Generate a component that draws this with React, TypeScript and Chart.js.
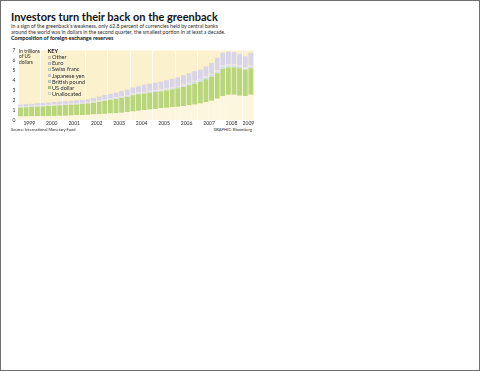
import React, { useEffect, useRef } from "react";
import { Chart, registerables } from "chart.js";

Chart.register(...registerables);

const quarters = [
  "1999Q1","1999Q2","1999Q3","1999Q4","2000Q1","2000Q2","2000Q3","2000Q4",
  "2001Q1","2001Q2","2001Q3","2001Q4","2002Q1","2002Q2","2002Q3","2002Q4",
  "2003Q1","2003Q2","2003Q3","2003Q4","2004Q1","2004Q2","2004Q3","2004Q4",
  "2005Q1","2005Q2","2005Q3","2005Q4","2006Q1","2006Q2","2006Q3","2006Q4",
  "2007Q1","2007Q2","2007Q3","2007Q4","2008Q1","2008Q2","2008Q3","2008Q4",
  "2009Q1","2009Q2",
];
const yearLabels = ["1999","2000","2001","2002","2003","2004","2005","2006","2007","2008","2009"];
const yMin = 0;
const yMax = 7;
const yStep = 1;

// trillions of US dollars
const unallocated = [
  0.35,0.36,0.37,0.38, 0.39,0.40,0.41,0.42, 0.44,0.46,0.48,0.50, 0.52,0.56,0.59,0.62,
  0.66,0.70,0.74,0.80, 0.86,0.94,1.00,1.05, 1.12,1.18,1.23,1.28, 1.33,1.40,1.47,1.55,
  1.65,1.78,1.95,2.15, 2.40,2.55,2.55,2.45, 2.42,2.55,
];
const usDollar = [
  0.91,0.92,0.94,0.96, 0.98,1.00,1.03,1.05, 1.06,1.07,1.09,1.12, 1.15,1.19,1.25,1.32,
  1.38,1.42,1.48,1.54, 1.64,1.66,1.66,1.70, 1.70,1.70,1.75,1.80, 1.87,1.93,2.03,2.13,
  2.23,2.32,2.43,2.55, 2.75,2.75,2.75,2.75, 2.63,2.67,
];
const britishPound = [
  0.04,0.04,0.04,0.04, 0.04,0.04,0.04,0.04, 0.05,0.05,0.05,0.05, 0.05,0.05,0.05,0.05,
  0.06,0.07,0.07,0.07, 0.08,0.08,0.09,0.09, 0.09,0.10,0.10,0.11, 0.12,0.13,0.14,0.15,
  0.15,0.16,0.17,0.19, 0.20,0.19,0.17,0.15, 0.14,0.17,
];
const japaneseYen = [
  0.08,0.08,0.08,0.08, 0.08,0.08,0.08,0.08, 0.08,0.07,0.07,0.07, 0.07,0.07,0.07,0.08,
  0.08,0.08,0.08,0.08, 0.08,0.08,0.09,0.09, 0.09,0.10,0.10,0.10, 0.10,0.11,0.11,0.11,
  0.10,0.11,0.11,0.12, 0.13,0.13,0.13,0.14, 0.13,0.13,
];
const swissFranc = [
  0.01,0.01,0.01,0.01, 0.01,0.01,0.01,0.01, 0.01,0.01,0.01,0.01, 0.01,0.01,0.01,0.01,
  0.01,0.01,0.01,0.01, 0.01,0.01,0.01,0.01, 0.01,0.01,0.01,0.01, 0.01,0.01,0.01,0.01,
  0.01,0.01,0.01,0.01, 0.01,0.01,0.01,0.01, 0.01,0.01,
];
const euro = [
  0.17,0.19,0.20,0.21, 0.22,0.23,0.25,0.26, 0.26,0.28,0.30,0.29, 0.30,0.35,0.39,0.44,
  0.43,0.49,0.54,0.57, 0.59,0.64,0.71,0.74, 0.75,0.76,0.81,0.85, 0.87,0.92,0.94,0.95,
  0.93,1.02,1.07,1.22, 1.29,1.25,1.21,1.12, 1.08,1.22,
];
const other = [
  0.02,0.02,0.02,0.02, 0.02,0.02,0.02,0.02, 0.02,0.02,0.02,0.02, 0.02,0.02,0.02,0.03,
  0.03,0.03,0.03,0.03, 0.04,0.04,0.04,0.04, 0.04,0.05,0.05,0.05, 0.05,0.05,0.05,0.05,
  0.05,0.05,0.06,0.06, 0.07,0.07,0.08,0.08, 0.09,0.10,
];

const COLORS = {
  bg: "#FCF1CD",
  unallocated: "#FDF6DE",
  usDollar: "#B9D67C",
  britishPound: "#CBE0E4",
  japaneseYen: "#E4DFEC",
  swissFranc: "#D9EBD6",
  euro: "#D9D4E6",
  other: "#F4E8C4",
};

const seriesDefs = [
  { label: "Unallocated", data: unallocated, color: COLORS.unallocated },
  { label: "US dollar", data: usDollar, color: COLORS.usDollar },
  { label: "British pound", data: britishPound, color: COLORS.britishPound },
  { label: "Japanese yen", data: japaneseYen, color: COLORS.japaneseYen },
  { label: "Swiss franc", data: swissFranc, color: COLORS.swissFranc },
  { label: "Euro", data: euro, color: COLORS.euro },
  { label: "Other", data: other, color: COLORS.other },
];

const FONT = "Lato, 'Liberation Sans', sans-serif";
const TEXT = "#2a2a2a";

const bgPlugin = {
  id: "plotBg",
  beforeDraw(chart: any) {
    const { ctx, chartArea } = chart;
    if (!chartArea) return;
    ctx.save();
    ctx.fillStyle = COLORS.bg;
    ctx.fillRect(chartArea.left, chartArea.top, chartArea.right - chartArea.left, chartArea.bottom - chartArea.top);
    ctx.restore();
  },
};

function ChartCanvas() {
  const ref = useRef<HTMLCanvasElement | null>(null);
  useEffect(() => {
    if (!ref.current) return;
    const chart = new Chart(ref.current, {
      type: "bar",
      data: {
        labels: quarters,
        datasets: seriesDefs.map((s) => ({
          label: s.label,
          data: s.data,
          backgroundColor: s.color,
          borderColor: "rgba(255,255,255,0.5)",
          borderWidth: { top: 0, bottom: 0, left: 0, right: 1 },
          borderSkipped: false,
          barPercentage: 1,
          categoryPercentage: 1,
        })),
      },
      options: {
        animation: false,
        responsive: false,
        maintainAspectRatio: false,
        devicePixelRatio: 1,
        events: [],
        layout: { padding: { top: 3, right: 5, left: 0, bottom: 0 } },
        plugins: {
          legend: { display: false },
          tooltip: { enabled: false },
          title: { display: false },
        },
        scales: {
          x: {
            stacked: true,
            offset: true,
            grid: {
              display: true,
              offset: true,
              drawTicks: false,
              tickLength: 0,
              lineWidth: 1,
              color: (c: any) => (c.index % 4 === 0 ? "rgba(255,255,255,0.8)" : "rgba(0,0,0,0)"),
            },
            border: { display: false },
            ticks: {
              autoSkip: false,
              maxRotation: 0,
              minRotation: 0,
              padding: 0.5,
              labelOffset: -2.8,
              color: TEXT,
              font: { size: 5, family: FONT },
              callback: (_v: any, i: number) => {
                if (i === quarters.length - 1) return yearLabels[yearLabels.length - 1];
                if (i % 4 === 2 && i < 40) return yearLabels[Math.floor(i / 4)];
                return "";
              },
            },
            afterFit: (s: any) => {
              s.height = 7;
            },
          },
          y: {
            stacked: true,
            min: yMin,
            max: yMax,
            grid: { display: false, drawTicks: false, tickLength: 0 },
            border: { display: false },
            ticks: {
              stepSize: yStep,
              autoSkip: false,
              padding: 2.5,
              color: TEXT,
              font: { size: 5, family: FONT },
            },
            afterFit: (s: any) => {
              s.width = 9;
            },
          },
        },
      },
      plugins: [bgPlugin],
    });
    return () => chart.destroy();
  }, []);
  return (
    <canvas
      ref={ref}
      width={250}
      height={82}
      style={{ position: "absolute", left: 8, top: 44, width: 250, height: 82 }}
    />
  );
}

const legendItems = [...seriesDefs].reverse();

export default function App() {
  return (
    <div
      style={{
        position: "fixed",
        left: 0,
        top: 0,
        width: 480,
        height: 371,
        boxSizing: "border-box",
        border: "1px solid #6e6e6e",
        background: "#fff",
        fontFamily: FONT,
        color: TEXT,
        overflow: "hidden",
      }}
    >
      <div style={{ position: "absolute", left: 10, top: 10, fontSize: 11, lineHeight: "11px", fontWeight: 700, color: "#111", whiteSpace: "nowrap" }}>
        Investors turn their back on the greenback
      </div>
      <div style={{ position: "absolute", left: 10, top: 21.5, fontSize: 5.2, lineHeight: "6.3px", whiteSpace: "nowrap" }}>
        <div>In a sign of the greenback’s weakness, only 62.8 percent of currencies held by central banks</div>
        <div>around the world was in dollars in the second quarter, the smallest portion in at least a decade.</div>
      </div>
      <div style={{ position: "absolute", left: 10, top: 35.2, fontSize: 5.5, lineHeight: "5.5px", fontWeight: 700, color: "#111", whiteSpace: "nowrap" }}>
        Composition of foreign exchange reserves
      </div>

      <ChartCanvas />

      <div style={{ position: "absolute", left: 18, top: 47.5, fontSize: 4.8, lineHeight: "5.8px", whiteSpace: "nowrap" }}>
        <div>In trillions</div>
        <div>of US</div>
        <div>dollars</div>
      </div>

      <div style={{ position: "absolute", left: 46.5, top: 47.2, fontSize: 5.6, lineHeight: "6.1px", whiteSpace: "nowrap" }}>
        <div style={{ fontWeight: 700, color: "#111" }}>KEY</div>
        {legendItems.map((s) => (
          <div key={s.label} style={{ display: "flex", alignItems: "center", height: "6.1px" }}>
            <span
              style={{
                display: "inline-block",
                width: 3,
                height: 3,
                background: s.color,
                border: "0.5px solid rgba(120,120,120,0.3)",
                marginRight: 1.5,
                boxSizing: "border-box",
              }}
            />
            <span>{s.label}</span>
          </div>
        ))}
      </div>

      <div style={{ position: "absolute", left: 10, top: 126.5, fontSize: 4, lineHeight: "4px", whiteSpace: "nowrap" }}>
        Source: International Monetary Fund
      </div>
      <div style={{ position: "absolute", right: 480 - 253, top: 126.5, fontSize: 4, lineHeight: "4px", whiteSpace: "nowrap" }}>
        GRAPHIC: Bloomberg
      </div>
    </div>
  );
}
